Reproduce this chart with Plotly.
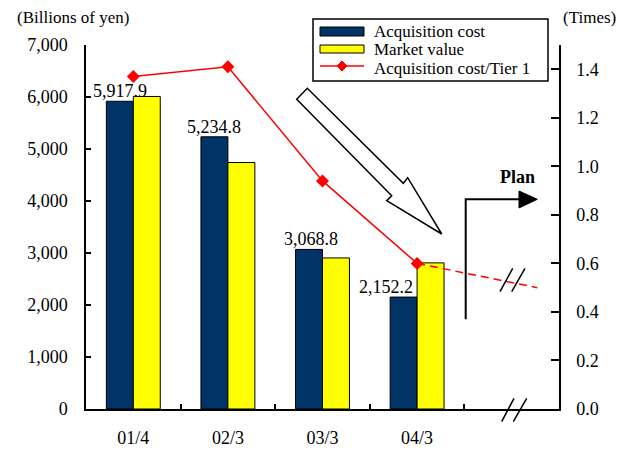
import plotly.graph_objects as go

# ---------------- data ----------------
categories = ["01/4", "02/3", "03/3", "04/3"]
acq_cost = [5917.9, 5234.8, 3068.8, 2152.2]
market_value = [6010, 4740, 2905, 2810]
cost_labels = ["5,917.9", "5,234.8", "3,068.8", "2,152.2"]
ratio = [1.37, 1.41, 0.94, 0.60]
plan_x = [3, 4.27]
plan_ratio = [0.60, 0.50]
left_ticks = [0, 1000, 2000, 3000, 4000, 5000, 6000, 7000]
right_ticks = [0.0, 0.2, 0.4, 0.6, 0.8, 1.0, 1.2, 1.4]

# ---------------- style ----------------
W, H = 629, 450
L, R, T, B = 86, 70, 45, 41
PW, PH = W - L - R, H - T - B
FONT = "Liberation Serif, Times New Roman, serif"
NAVY = "#003366"
YELLOW = "#FFFF00"
RED = "#FF0000"
BAR_W = 0.285
label_xshift = [0, 0, 2, -18]


def px(x):
    return (x - L) / PW


def py(y):
    return (H - B - y) / PH


def path(points):
    s = "M " + " L ".join(f"{px(x):.5f},{py(y):.5f}" for x, y in points)
    return s + " Z"


xpos = list(range(len(categories)))

fig = go.Figure()
fig.add_trace(go.Bar(x=xpos, y=acq_cost, width=BAR_W, offset=-BAR_W,
                     marker=dict(color=NAVY, line=dict(color="black", width=1)),
                     name="Acquisition cost", showlegend=False))
fig.add_trace(go.Bar(x=xpos, y=market_value, width=BAR_W, offset=0,
                     marker=dict(color=YELLOW, line=dict(color="black", width=1)),
                     name="Market value", showlegend=False))
fig.add_trace(go.Scatter(x=xpos, y=ratio, yaxis="y2", mode="lines+markers",
                         line=dict(color=RED, width=1.5),
                         marker=dict(symbol="diamond", size=10, color=RED),
                         name="Acquisition cost/Tier 1", showlegend=False))
fig.add_trace(go.Scatter(x=plan_x, y=plan_ratio, yaxis="y2", mode="lines",
                         line=dict(color=RED, width=1.5, dash="8px,5px"),
                         showlegend=False, hoverinfo="skip"))

annotations = []
for i, (v, t) in enumerate(zip(acq_cost, cost_labels)):
    annotations.append(dict(x=i - BAR_W / 2, y=v, xref="x", yref="y", text=t,
                            showarrow=False, xanchor="center", yanchor="bottom",
                            yshift=-2, xshift=label_xshift[i],
                            font=dict(family=FONT, size=18, color="black")))

annotations += [
    dict(x=px(73), y=py(17), xref="paper", yref="paper", text="(Billions of yen)",
         showarrow=False, xanchor="center", yanchor="middle",
         font=dict(family=FONT, size=17, color="black")),
    dict(x=px(589), y=py(17), xref="paper", yref="paper", text="(Times)",
         showarrow=False, xanchor="center", yanchor="middle",
         font=dict(family=FONT, size=17, color="black")),
    dict(x=px(517), y=py(177), xref="paper", yref="paper", text="<b>Plan</b>",
         showarrow=False, xanchor="center", yanchor="middle",
         font=dict(family=FONT, size=18, color="black")),
]

legend_items = ["Acquisition cost", "Market value", "Acquisition cost/Tier 1"]
legend_rows = [31.5, 50, 68.5]
for txt, yy in zip(legend_items, legend_rows):
    annotations.append(dict(x=px(372), y=py(yy), xref="paper", yref="paper",
                            text=txt, showarrow=False, xanchor="left",
                            yanchor="middle",
                            font=dict(family=FONT, size=17, color="black")))

shapes = []
# hollow trend arrow
shapes.append(dict(type="path", xref="paper", yref="paper",
                   path=path([(296.7, 99.3), (307.3, 88.3), (403.3, 183.3),
                              (407.7, 177.7), (441.7, 234), (386.7, 200.7),
                              (391.7, 195.7)]),
                   line=dict(color="black", width=1.5), fillcolor="white"))
# plan bent arrow
shapes.append(dict(type="path", xref="paper", yref="paper",
                   path=f"M {px(465.7):.5f},{py(319.3):.5f} L {px(465.7):.5f},{py(199.3):.5f} "
                        f"L {px(520):.5f},{py(199.3):.5f}",
                   line=dict(color="black", width=2)))
shapes.append(dict(type="path", xref="paper", yref="paper",
                   path=path([(519, 191), (537.3, 199.3), (519, 208)]),
                   line=dict(color="black", width=1), fillcolor="black"))
# break marks
for (x0, y0, x1, y1) in [(500, 291.7, 512.7, 268.3), (511.7, 291.7, 525, 268.3),
                         (501.7, 421.7, 514, 398.3), (513.3, 421.7, 526.7, 398.3)]:
    shapes.append(dict(type="line", xref="paper", yref="paper",
                       x0=px(x0), y0=py(y0), x1=px(x1), y1=py(y1),
                       line=dict(color="black", width=1.5)))
# custom legend
shapes.append(dict(type="rect", xref="paper", yref="paper",
                   x0=px(313), x1=px(548), y0=py(81), y1=py(19),
                   line=dict(color="black", width=1.5), fillcolor="white", layer="below"))
shapes.append(dict(type="rect", xref="paper", yref="paper",
                   x0=px(320), x1=px(364), y0=py(36), y1=py(27),
                   line=dict(color="black", width=1), fillcolor=NAVY))
shapes.append(dict(type="rect", xref="paper", yref="paper",
                   x0=px(320), x1=px(364), y0=py(53), y1=py(45),
                   line=dict(color="black", width=1), fillcolor=YELLOW))
shapes.append(dict(type="line", xref="paper", yref="paper",
                   x0=px(320), x1=px(364), y0=py(66), y1=py(66),
                   line=dict(color=RED, width=1.5)))
shapes.append(dict(type="path", xref="paper", yref="paper",
                   path=path([(342, 61), (347, 66), (342, 71), (337, 66)]),
                   line=dict(color=RED, width=1), fillcolor=RED))

fig.update_layout(
    width=W, height=H,
    margin=dict(l=L, r=R, t=T, b=B),
    paper_bgcolor="white", plot_bgcolor="white",
    showlegend=False,
    font=dict(family=FONT, size=18, color="black"),
    xaxis=dict(range=[-0.5, 4.5], tickvals=xpos, ticktext=categories,
               ticks="", showline=True, linecolor="black", linewidth=1.5,
               showgrid=False, zeroline=False, ticklabelstandoff=12,
               automargin=False,
               minor=dict(tickvals=[i + 0.5 for i in xpos], ticks="inside",
                          ticklen=5, tickcolor="black", tickwidth=1.5,
                          showgrid=False),
               tickfont=dict(family=FONT, size=18), fixedrange=True),
    yaxis=dict(range=[0, 7000], tickvals=left_ticks, tickformat=",",
               ticks="inside", ticklen=5, tickwidth=1.5, tickcolor="black",
               showline=True, linecolor="black", linewidth=1.5,
               showgrid=False, zeroline=False, ticklabelstandoff=13,
               automargin=False,
               tickfont=dict(family=FONT, size=18)),
    yaxis2=dict(range=[0, 1.5], tickvals=right_ticks, tickformat=".1f",
                overlaying="y", side="right",
                ticks="inside", ticklen=8, tickwidth=1.5, tickcolor="black",
                showline=True, linecolor="black", linewidth=1.5,
                showgrid=False, zeroline=False, ticklabelstandoff=12,
                automargin=False,
                tickfont=dict(family=FONT, size=18)),
    annotations=annotations,
    shapes=shapes,
)

fig.write_html("out.html", config={"displayModeBar": False},
               post_script="document.body.style.margin='0px';")
